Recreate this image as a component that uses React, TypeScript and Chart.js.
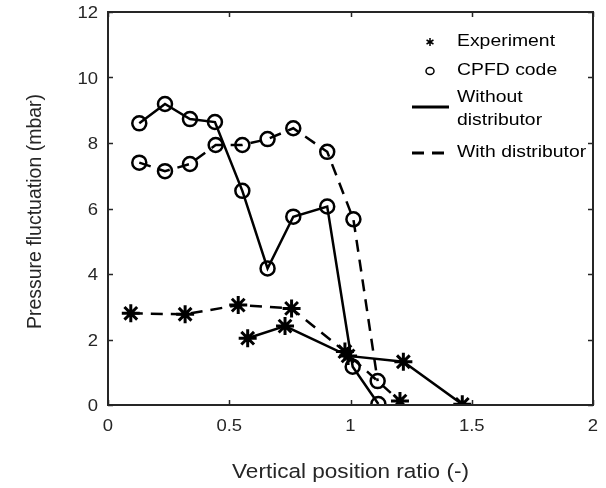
import React, { useEffect, useRef } from "react";
import { Chart, registerables } from "chart.js";
Chart.register(...registerables);

const xTicks = [0, 0.5, 1, 1.5, 2];
const xTickLabels = ["0", "0.5", "1", "1.5", "2"];
const yTicks = [0, 2, 4, 6, 8, 10, 12];
const yTickLabels = ["0", "2", "4", "6", "8", "10", "12"];

const cpfdWithoutX = [0.129, 0.235, 0.338, 0.441, 0.554, 0.658, 0.764, 0.904, 1.009, 1.115];
const cpfdWithoutY = [8.6, 9.19, 8.73, 8.64, 6.54, 4.17, 5.75, 6.06, 1.17, 0.03];

const cpfdWithX = [0.129, 0.235, 0.338, 0.444, 0.554, 0.658, 0.764, 0.904, 1.012, 1.112];
const cpfdWithY = [7.4, 7.14, 7.36, 7.94, 7.94, 8.12, 8.45, 7.73, 5.67, 0.73];

const expWithoutX = [0.576, 0.73, 0.99, 1.218, 1.461];
const expWithoutY = [2.04, 2.41, 1.5, 1.32, 0.02];

const expWithX = [0.094, 0.318, 0.537, 0.757, 0.977, 1.204];
const expWithY = [2.8, 2.77, 3.05, 2.95, 1.63, 0.12];

const FONT = '"Liberation Sans", Arial, sans-serif';
const AXIS = "#262626";

const pts = (xs: number[], ys: number[]) => xs.map((x, i) => ({ x, y: ys[i] }));

function sText(ctx: any, text: string, x: number, y: number, align: string, size: number, sx: number) {
  ctx.save();
  ctx.translate(x, y);
  ctx.scale(sx, 1);
  ctx.font = `${size}px ${FONT}`;
  ctx.textAlign = align;
  ctx.fillText(text, 0, 0);
  ctx.restore();
}

const boxPlugin = {
  id: "box",
  afterDraw(chart: any) {
    const { ctx, chartArea, scales } = chart;
    const { left, right, top, bottom } = chartArea;
    const x = scales.x;
    const y = scales.y;
    ctx.save();
    ctx.strokeStyle = AXIS;
    ctx.lineWidth = 2;
    ctx.strokeRect(left, top, right - left, bottom - top);
    ctx.lineWidth = 1.5;
    ctx.beginPath();
    xTicks.forEach((v) => {
      const p = Math.round(x.getPixelForValue(v)) + 0.5;
      ctx.moveTo(p, bottom);
      ctx.lineTo(p, bottom - 5);
      ctx.moveTo(p, top);
      ctx.lineTo(p, top + 5);
    });
    yTicks.forEach((v) => {
      const p = Math.round(y.getPixelForValue(v)) + 0.5;
      ctx.moveTo(left, p);
      ctx.lineTo(left + 5, p);
      ctx.moveTo(right, p);
      ctx.lineTo(right - 5, p);
    });
    ctx.stroke();

    // tick labels
    ctx.fillStyle = AXIS;
    ctx.textBaseline = "alphabetic";
    xTicks.forEach((v, i) => {
      sText(ctx, xTickLabels[i], x.getPixelForValue(v), bottom + 26, "center", 16.5, 1.12);
    });
    yTicks.forEach((v, i) => {
      sText(ctx, yTickLabels[i], left - 10, y.getPixelForValue(v) + 6, "right", 16.5, 1.12);
    });

    // axis titles
    sText(ctx, "Vertical position ratio (-)", (left + right) / 2, 478, "center", 20.5, 1.1);
    ctx.save();
    ctx.translate(41, (top + bottom) / 2 + 3);
    ctx.rotate(-Math.PI / 2);
    ctx.font = `19.5px ${FONT}`;
    ctx.textAlign = "center";
    ctx.fillText("Pressure fluctuation (mbar)", 0, 0);
    ctx.restore();

    // legend
    ctx.fillStyle = "#000";
    ctx.strokeStyle = "#000";
    ctx.textBaseline = "middle";
    const tx = 457;
    const lf = 17;
    const ls = 1.14;
    const sx = 430, sy = 42, r = 4;
    ctx.lineWidth = 1.5;
    ctx.beginPath();
    for (let k = 0; k < 3; k++) {
      const a = (Math.PI / 3) * k + Math.PI / 2;
      ctx.moveTo(sx + r * Math.cos(a), sy + r * Math.sin(a));
      ctx.lineTo(sx - r * Math.cos(a), sy - r * Math.sin(a));
    }
    ctx.stroke();
    sText(ctx, "Experiment", tx, 41, "left", lf, ls);
    ctx.beginPath();
    ctx.ellipse(430, 71, 4, 3.5, 0, 0, Math.PI * 2);
    ctx.stroke();
    sText(ctx, "CPFD code", tx, 70, "left", lf, ls);
    ctx.lineWidth = 3;
    ctx.beginPath();
    ctx.moveTo(412, 107);
    ctx.lineTo(449, 107);
    ctx.stroke();
    sText(ctx, "Without", tx, 97, "left", lf, ls);
    sText(ctx, "distributor", tx, 120, "left", lf, ls);
    ctx.setLineDash([12, 8]);
    ctx.beginPath();
    ctx.moveTo(412, 153);
    ctx.lineTo(449, 153);
    ctx.stroke();
    ctx.setLineDash([]);
    sText(ctx, "With distributor", tx, 152, "left", lf, ls);
    ctx.restore();
  },
};

export default function App() {
  const ref = useRef<HTMLCanvasElement | null>(null);
  useEffect(() => {
    if (!ref.current) return;
    const common = {
      showLine: true,
      borderColor: "#000",
      backgroundColor: "rgba(0,0,0,0)",
      borderWidth: 2.5,
      pointBorderColor: "#000",
      pointBackgroundColor: "rgba(0,0,0,0)",
    };
    const chart = new Chart(ref.current, {
      type: "scatter",
      data: {
        datasets: [
          {
            ...common,
            label: "CPFD without",
            data: pts(cpfdWithoutX, cpfdWithoutY),
            pointStyle: "circle",
            pointRadius: 7,
            pointBorderWidth: 2.5,
          },
          {
            ...common,
            label: "CPFD with",
            data: pts(cpfdWithX, cpfdWithY),
            borderDash: [12, 8],
            pointStyle: "circle",
            pointRadius: 7,
            pointBorderWidth: 2.5,
          },
          {
            ...common,
            label: "Exp without",
            data: pts(expWithoutX, expWithoutY),
            pointStyle: "star",
            pointRadius: 9,
            pointBorderWidth: 3,
          },
          {
            ...common,
            label: "Exp with",
            data: pts(expWithX, expWithY),
            borderDash: [12, 8],
            pointStyle: "star",
            pointRadius: 9,
            pointBorderWidth: 3,
          },
        ],
      },
      options: {
        animation: false,
        responsive: false,
        layout: { padding: { top: 11, right: 13, left: 0, bottom: 0 } },
        plugins: { legend: { display: false }, tooltip: { enabled: false } },
        scales: {
          x: {
            type: "linear",
            min: 0,
            max: 2,
            grid: { display: false },
            border: { display: false },
            ticks: { display: false },
            afterFit: (s: any) => {
              s.height = 83;
              s.paddingLeft = 0;
              s.paddingRight = 0;
            },
            afterBuildTicks: (s: any) => {
              s.ticks = xTicks.map((v) => ({ value: v }));
            },
          },
          y: {
            type: "linear",
            min: 0,
            max: 12,
            grid: { display: false },
            border: { display: false },
            ticks: { display: false },
            afterFit: (s: any) => {
              s.width = 108;
              s.paddingTop = 0;
              s.paddingBottom = 0;
            },
            afterBuildTicks: (s: any) => {
              s.ticks = yTicks.map((v) => ({ value: v }));
            },
          },
        },
      },
      plugins: [boxPlugin],
    });
    return () => chart.destroy();
  }, []);
  return (
    <div style={{ position: "fixed", left: 0, top: 0, width: 606, height: 488, background: "#fff" }}>
      <canvas ref={ref} width={606} height={488} style={{ display: "block" }} />
    </div>
  );
}
